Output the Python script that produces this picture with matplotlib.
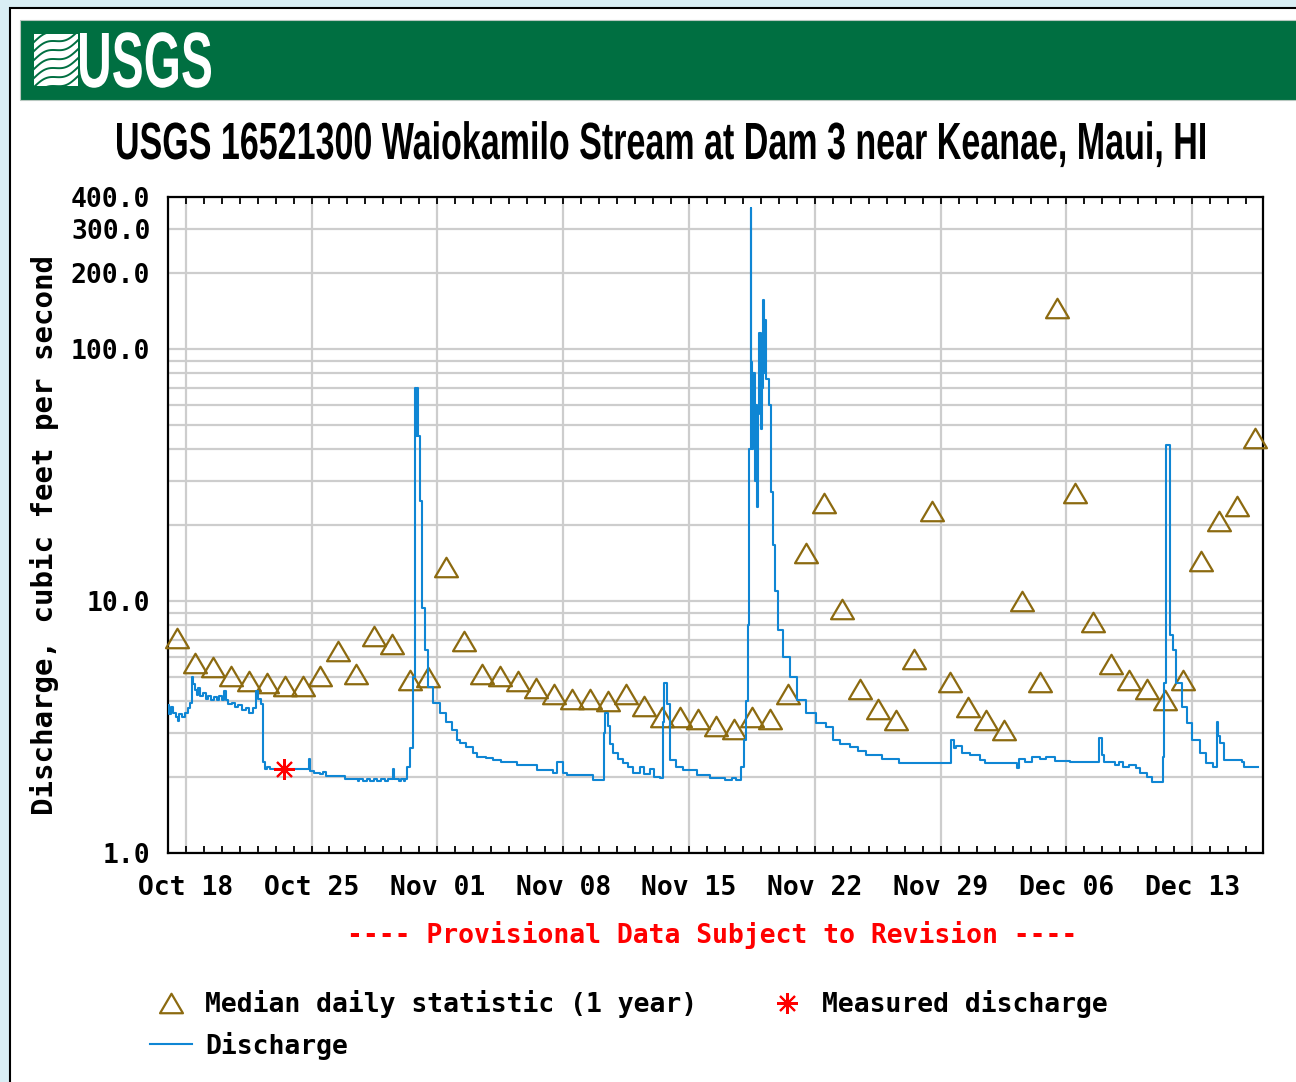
import numpy as np
import pandas as pd
import matplotlib
matplotlib.use("Agg")
import matplotlib.pyplot as plt
import matplotlib.dates as mdates
import matplotlib.ticker as mticker
from matplotlib.patches import Rectangle
from matplotlib.lines import Line2D
from matplotlib.path import Path
from matplotlib.transforms import Affine2D
import matplotlib.patheffects as pe
from matplotlib.textpath import TextPath
from matplotlib.font_manager import FontProperties

# ---------------- data ----------------
start_date = "2022-10-17"
end_offset_days = 60.95

title = "USGS 16521300 Waiokamilo Stream at Dam 3 near Keanae, Maui, HI"
y_label = "Discharge, cubic feet per second"
provisional = "---- Provisional Data Subject to Revision ----"
legend_labels = ["Median daily statistic (1 year)", "Discharge", "Measured discharge"]

# median daily statistic, one value per day starting Oct 17 (plotted at noon)
median_cfs = [7.11, 5.66, 5.46, 5.04, 4.81, 4.71, 4.58, 4.58, 5.02, 6.35,
              5.13, 7.26, 6.75, 4.88, 5.00, 13.6, 6.96, 5.14, 5.02, 4.81,
              4.50, 4.29, 4.10, 4.10, 4.01, 4.29, 3.82, 3.46, 3.48, 3.41,
              3.18, 3.11, 3.46, 3.41, 4.26, 15.5, 24.5, 9.32, 4.47, 3.72,
              3.38, 5.90, 22.8, 4.77, 3.81, 3.38, 3.09, 10.0, 4.77, 146.0,
              26.9, 8.26, 5.61, 4.88, 4.46, 4.04, 4.88, 14.4, 20.8, 23.8,
              44.5]

# discharge (days after start, cfs), stepwise
discharge_day = [0.00, 0.10, 0.20, 0.30, 0.45, 0.55, 0.65, 0.81, 0.96, 1.11,
                 1.26, 1.34, 1.41, 1.51, 1.61, 1.71, 1.81, 1.96, 2.11, 2.26,
                 2.42, 2.57, 2.72, 2.87, 3.02, 3.12, 3.22, 3.37, 3.57, 3.72,
                 3.92, 4.13, 4.33, 4.53, 4.73, 4.93, 5.05, 5.18, 5.31, 5.39,
                 5.54, 5.69, 7.85, 7.91, 8.15, 8.45, 8.66, 8.81, 9.86, 10.57,
                 10.67, 10.87, 11.07, 11.27, 11.47, 11.67, 11.88, 12.08, 12.28, 12.53,
                 12.60, 12.88, 12.96, 13.13, 13.20, 13.33, 13.49, 13.64, 13.74, 13.81,
                 13.87, 13.95, 14.01, 14.12, 14.29, 14.49, 14.74, 15.15, 15.50, 15.80,
                 16.08, 16.25, 16.61, 16.96, 17.21, 17.71, 18.12, 18.52, 19.42, 20.53,
                 21.44, 21.64, 21.99, 22.24, 23.65, 24.25, 24.35, 24.49, 24.61, 24.78,
                 25.06, 25.34, 25.61, 25.91, 26.27, 26.47, 26.82, 27.07, 27.37, 27.54,
                 27.63, 27.76, 27.93, 28.28, 28.68, 29.44, 30.19, 31.00, 31.40, 31.60,
                 31.90, 32.05, 32.15, 32.26, 32.36, 32.43, 32.47, 32.52, 32.57, 32.65,
                 32.71, 32.76, 32.83, 32.90, 32.98, 33.04, 33.11, 33.18, 33.24, 33.31,
                 33.46, 33.57, 33.69, 33.77, 33.94, 34.22, 34.62, 34.99, 35.53, 36.08,
                 36.63, 36.99, 37.39, 37.94, 38.39, 38.85, 39.75, 40.71, 43.58, 43.73,
                 43.88, 44.18, 44.63, 45.19, 45.49, 47.25, 47.35, 47.70, 48.11, 48.51,
                 48.86, 49.36, 50.17, 51.83, 51.95, 52.08, 52.69, 52.94, 53.14, 53.49,
                 53.89, 54.09, 54.50, 54.75, 55.37, 55.45, 55.55, 55.77, 55.92, 56.12,
                 56.41, 56.68, 56.96, 57.42, 57.79, 58.15, 58.35, 58.42, 58.52, 58.79,
                 59.78, 59.90, 60.67]
discharge_cfs = [3.85, 3.55, 3.80, 3.60, 3.45, 3.35, 3.55, 3.45, 3.60, 3.75,
                 3.95, 5.00, 4.70, 4.45, 4.25, 4.50, 4.20, 4.30, 4.10, 4.20,
                 4.05, 4.15, 4.05, 4.20, 4.05, 4.40, 4.05, 3.90, 3.95, 3.80,
                 3.85, 3.70, 3.75, 3.60, 3.75, 4.40, 4.10, 3.90, 2.30, 2.15,
                 2.20, 2.15, 2.35, 2.12, 2.08, 2.05, 2.10, 2.02, 1.97, 1.93,
                 1.97, 1.93, 1.97, 1.93, 1.97, 1.93, 1.97, 1.93, 1.97, 2.15,
                 1.97, 1.93, 1.97, 1.93, 1.97, 2.20, 2.60, 5.00, 70.0, 45.0,
                 70.0, 45.0, 25.0, 9.40, 6.40, 4.57, 3.93, 3.60, 3.30, 3.07,
                 2.80, 2.73, 2.64, 2.49, 2.41, 2.38, 2.34, 2.30, 2.23, 2.13,
                 2.08, 2.30, 2.08, 2.04, 1.95, 3.00, 3.60, 3.20, 2.70, 2.49,
                 2.35, 2.27, 2.20, 2.08, 2.20, 2.05, 2.15, 2.00, 1.98, 3.30,
                 4.72, 3.90, 2.34, 2.20, 2.13, 2.04, 1.98, 1.94, 1.98, 1.94,
                 2.20, 2.80, 4.00, 8.00, 40.0, 362.0, 89.0, 40.0, 80.0, 30.0,
                 60.0, 23.6, 55.0, 116.0, 48.0, 70.0, 156.0, 80.0, 130.0, 76.0,
                 60.0, 27.0, 16.7, 11.0, 7.67, 6.00, 5.00, 4.05, 3.59, 3.28,
                 3.17, 2.81, 2.70, 2.64, 2.55, 2.45, 2.37, 2.28, 2.81, 2.60,
                 2.65, 2.50, 2.45, 2.34, 2.28, 2.17, 2.35, 2.30, 2.40, 2.35,
                 2.40, 2.32, 2.30, 2.85, 2.45, 2.30, 2.23, 2.30, 2.20, 2.23,
                 2.17, 2.08, 2.00, 1.92, 2.41, 4.72, 41.6, 7.30, 6.38, 4.72,
                 3.81, 3.28, 2.81, 2.49, 2.27, 2.20, 3.31, 2.90, 2.73, 2.34,
                 2.30, 2.20, 2.20]

measured_day = [6.47]
measured_cfs = [2.15]

x_tick_dates = ["2022-10-18", "2022-10-25", "2022-11-01", "2022-11-08", "2022-11-15",
                "2022-11-22", "2022-11-29", "2022-12-06", "2022-12-13"]
y_major = [1, 10, 100, 200, 300, 400]
y_major_labels = ["1.0", "10.0", "100.0", "200.0", "300.0", "400.0"]
y_minor = [2, 3, 4, 5, 6, 7, 8, 9, 20, 30, 40, 50, 60, 70, 80, 90]

# ---------------- style ----------------
BLUE = "#0F86D4"
OLIVE = "#8C6A10"
GRID = "#CDCDCD"
GREEN = "#006F41"
MONO = "DejaVu Sans Mono"
NARROW = ["Liberation Sans Narrow", "Liberation Sans", "DejaVu Sans"]
FS = 19

W, H = 1296, 1082
def fx(px): return px / W
def fy(py): return 1 - py / H

class Stretch(pe.AbstractPathEffect):
    def __init__(self, sx=1.0, sy=1.0):
        super().__init__(offset=(0, 0))
        self.sx, self.sy = sx, sy
    def draw_path(self, renderer, gc, tpath, affine, rgbFace=None):
        renderer.draw_path(gc, tpath, Affine2D().scale(self.sx, self.sy) + affine, rgbFace)

def fitted_text(s, left, baseline, right, cap_top, color):
    fp = FontProperties(family=NARROW, weight="bold")
    ext = TextPath((0, 0), s, size=100, prop=fp).get_extents()
    cap = TextPath((0, 0), "H", size=100, prop=fp).get_extents().height
    fs_px = (right - left) * 100 / ext.width
    sy = (baseline - cap_top) / (cap * fs_px / 100)
    x0 = left - ext.x0 * fs_px / 100
    fig.text(fx(x0), fy(baseline), s, ha="left", va="baseline", color=color,
             fontsize=fs_px * 0.72, fontproperties=fp,
             path_effects=[Stretch(1.0, sy)], zorder=3)

plt.rcParams["font.family"] = MONO
plt.rcParams["font.weight"] = "bold"

fig = plt.figure(figsize=(W / 100, H / 100), dpi=100)
fig.patch.set_facecolor("#D9EEF4")

# page frame (behind everything)
fig.add_artist(Rectangle((fx(10), -0.1), 1.2, fy(8) + 0.1, transform=fig.transFigure,
                         fc="white", ec="black", lw=1.5, zorder=-10))
# banner
fig.add_artist(Rectangle((fx(20), fy(100)), 1.0, 80 / H, transform=fig.transFigure,
                         fc=GREEN, ec="#B8C8C0", lw=0.8, zorder=-5))
# logo icon
icon = Rectangle((fx(34), fy(86)), 44 / W, 52 / H, transform=fig.transFigure,
                 fc="white", ec="none", zorder=-4)
fig.add_artist(icon)
xx = np.linspace(30, 82, 60)
for k in range(7):
    yy = 96 - k * 9 - (xx - 34) * 0.45 - 3.5 * np.sin((xx - 34) / 44 * 2 * np.pi)
    ln = Line2D(fx(xx), fy(yy), transform=fig.transFigure, color=GREEN, lw=1.4, zorder=-3)
    ln.set_clip_path(icon)
    fig.add_artist(ln)
fitted_text("USGS", 80, 87, 211, 33, "white")

# title
fitted_text(title, 117, 159, 1205, 123, "black")

# axes
L, R, T, B = 167.7, 1263.3, 197.3, 853.0
ax = fig.add_axes([fx(L), fy(B), (R - L) / W, (B - T) / H])
t0 = pd.Timestamp(start_date)
ax.set_yscale("log")
ax.set_ylim(1, 400)
ax.set_xlim(t0, t0 + pd.to_timedelta(end_offset_days, unit="D"))

med_t = t0 + pd.to_timedelta(np.arange(len(median_cfs)) + 0.5, unit="D")
dis_t = t0 + pd.to_timedelta(discharge_day, unit="D")
mea_t = t0 + pd.to_timedelta(measured_day, unit="D")

tri = Path([(-1.0, -0.85), (0.0, 0.85), (1.0, -0.85), (-1.0, -0.85)],
           [Path.MOVETO, Path.LINETO, Path.LINETO, Path.CLOSEPOLY])
tri_kw = dict(ls="none", marker=tri, ms=16.5, mfc="none", mec=OLIVE, mew=1.6)
star_kw = dict(ls="none", marker=(8, 2, 0), ms=15, color="red", mew=1.5)

ax.plot(med_t, median_cfs, clip_on=False, zorder=3, **tri_kw)
ax.plot(dis_t, discharge_cfs, drawstyle="steps-post", color=BLUE, lw=1.5, zorder=4)
ax.plot(mea_t, measured_cfs, zorder=5, **star_kw)

# y axis
ax.yaxis.set_major_locator(mticker.FixedLocator(y_major))
ax.yaxis.set_major_formatter(mticker.FixedFormatter(y_major_labels))
ax.yaxis.set_minor_locator(mticker.FixedLocator(y_minor))
ax.yaxis.set_minor_formatter(mticker.NullFormatter())
ax.tick_params(axis="y", which="both", length=0, pad=12.5, labelsize=FS)

# x axis
ax.xaxis.set_major_locator(mticker.FixedLocator(mdates.date2num(pd.to_datetime(x_tick_dates))))
ax.xaxis.set_major_formatter(mdates.DateFormatter("%b %d"))
ax.xaxis.set_minor_locator(mdates.DayLocator())
ax.tick_params(axis="x", which="both", direction="in", top=True, bottom=True,
               length=5, width=1.3, color="black", labelsize=FS, pad=16)

ax.grid(True, axis="y", which="both", color=GRID, lw=1.6, zorder=0)
ax.grid(True, axis="x", which="major", color=GRID, lw=1.6, zorder=0)
ax.set_axisbelow(True)
for sp in ax.spines.values():
    sp.set_linewidth(1.6)
    sp.set_color("black")

ax.set_ylabel(y_label, fontsize=21, fontweight="bold", va="center", ha="center")
ax.yaxis.set_label_coords((44 - L) / (R - L), (B - 535) / (B - T))

# provisional note
fig.text(fx(712), fy(935), provisional, ha="center", va="center", color="red",
         fontsize=FS, fontweight="bold")

# legend
h_med = Line2D([], [], **tri_kw)
h_dis = Line2D([], [], color=BLUE, lw=1.5)
h_mea = Line2D([], [], **star_kw)
fig.legend(handles=[h_med, h_dis, h_mea], labels=legend_labels, ncol=2,
           loc="upper left", bbox_to_anchor=(fx(150), fy(990)),
           bbox_transform=fig.transFigure, frameon=False,
           prop=FontProperties(family=MONO, weight="bold", size=FS),
           handlelength=1.6, handletextpad=0.5, columnspacing=2.6,
           labelspacing=0.52, borderpad=0, borderaxespad=0)

fig.savefig("out.png", dpi=100, facecolor=fig.get_facecolor())
